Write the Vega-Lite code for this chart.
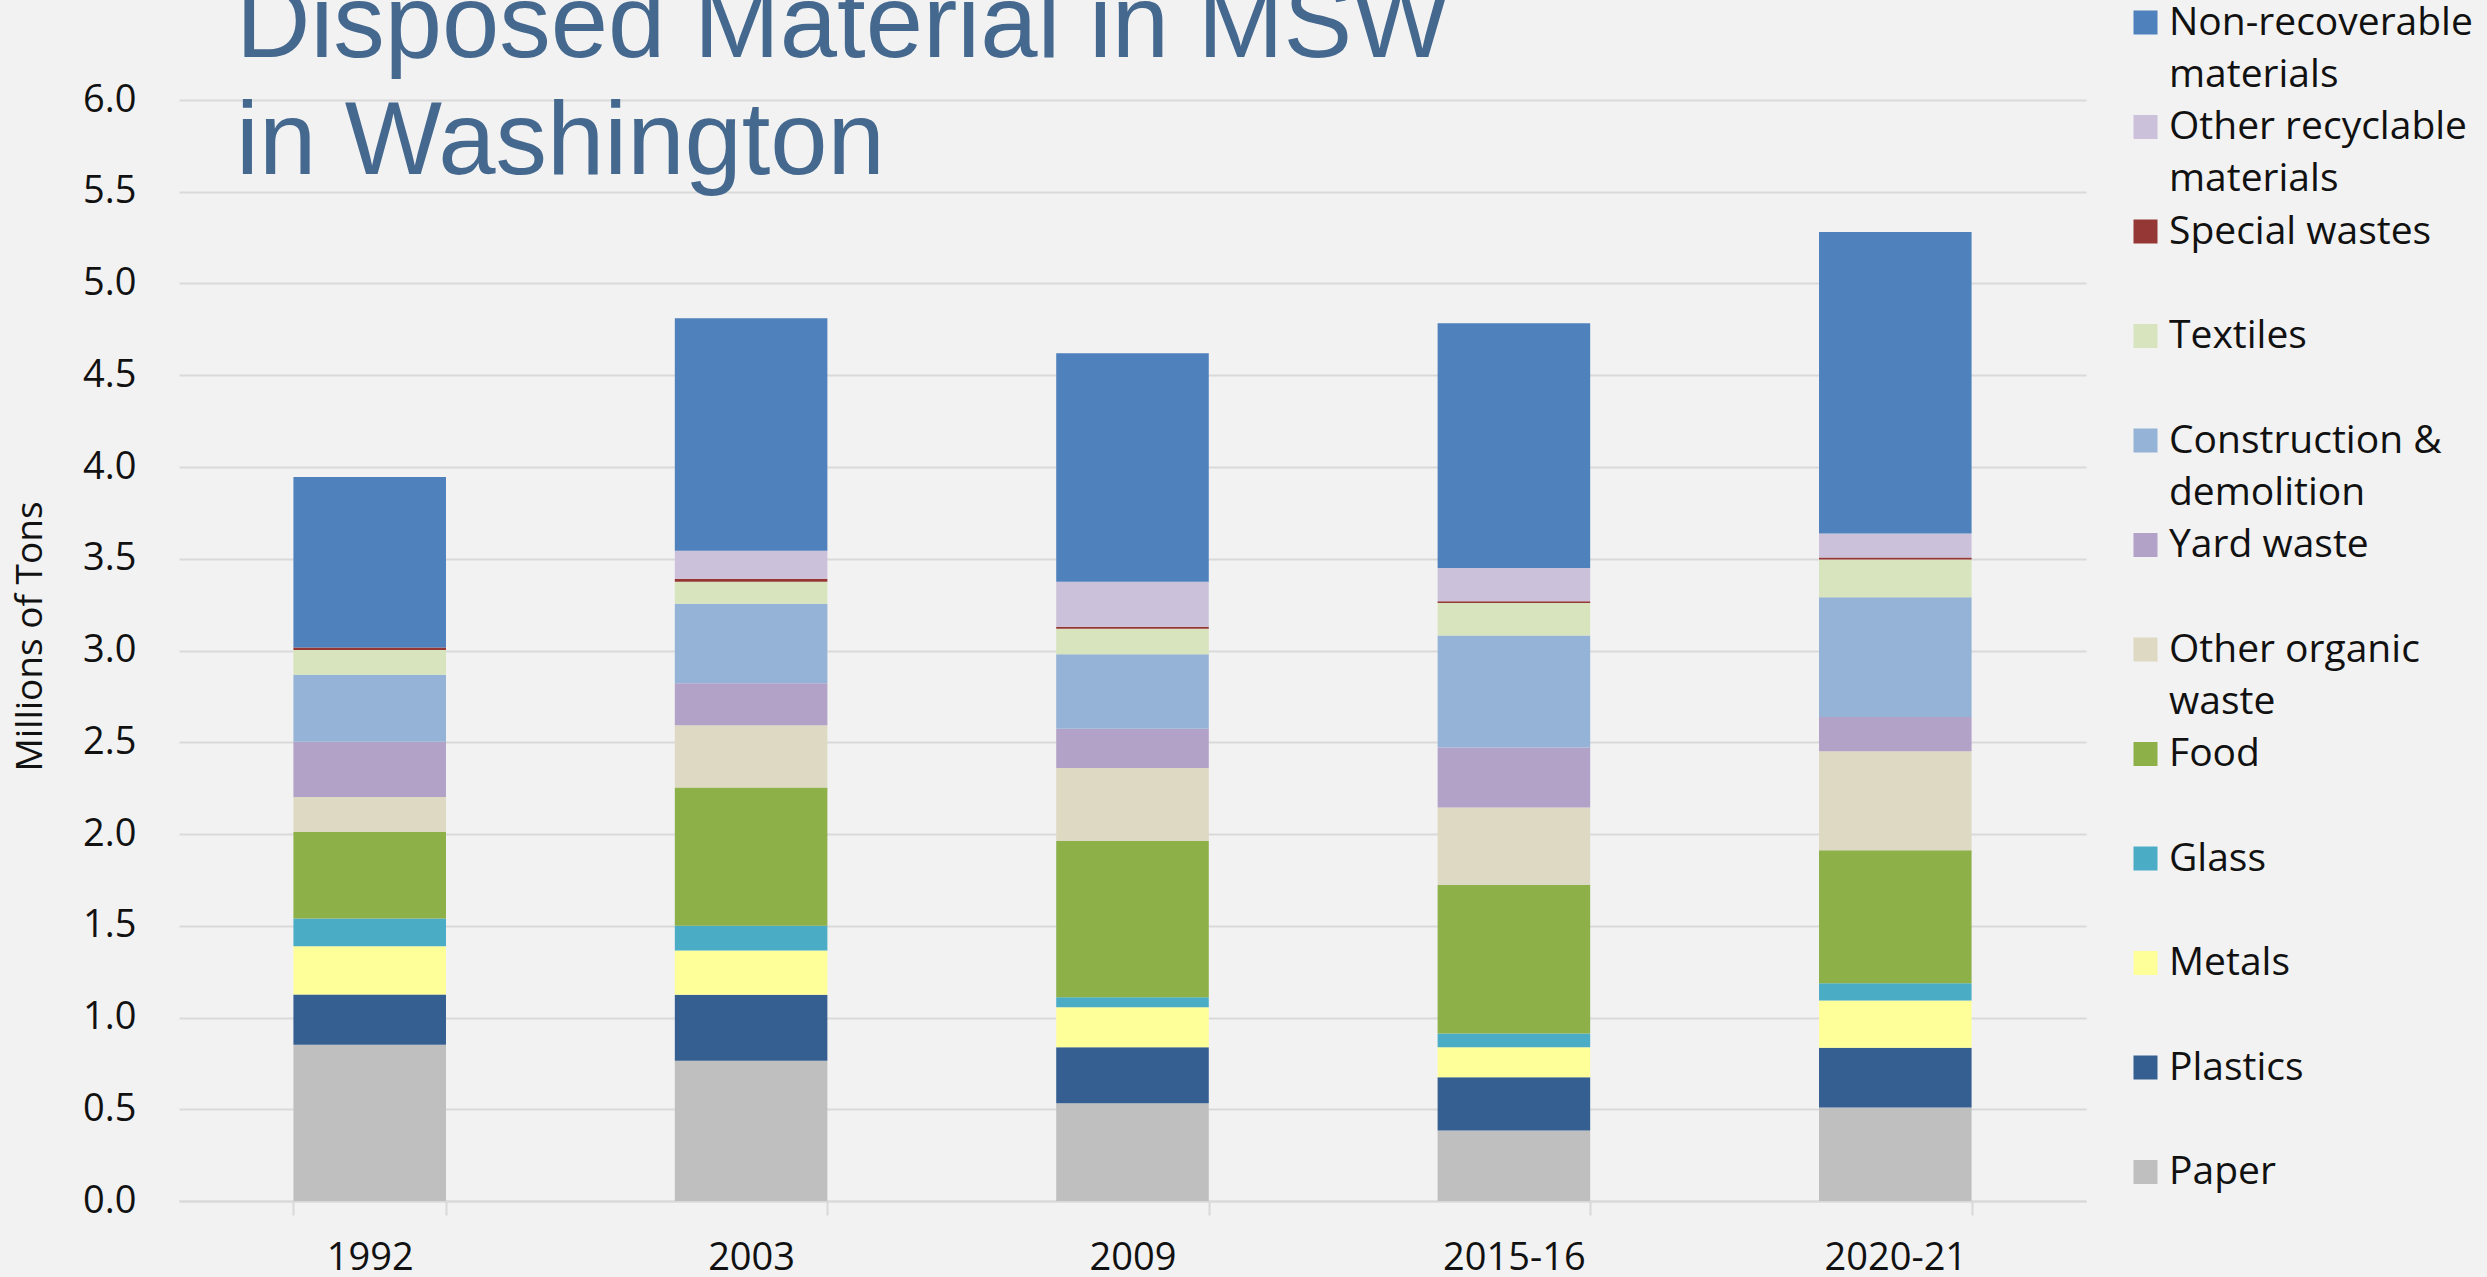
{
  "$schema": "https://vega.github.io/schema/vega-lite/v6.json",
  "autosize": {"type": "none"},
  "width": 1907,
  "height": 1101,
  "padding": {"left": 179, "top": 100, "right": 401, "bottom": 76},
  "background": "#F2F2F2",
  "title": {
    "text": ["Disposed Material in MSW", "in Washington"],
    "anchor": "start",
    "frame": "group",
    "font": "Liberation Sans",
    "fontSize": 103,
    "fontWeight": "normal",
    "color": "#45688F",
    "lineHeight": 117,
    "offset": -193,
    "dx": 57
  },
  "config": {
    "font": "Open Sans",
    "view": {"stroke": null},
    "axis": {"labelFont": "Open Sans", "titleFont": "Open Sans", "labelColor": "#111111", "titleColor": "#111111"}
  },
  "data": {
    "values": [
      {"period": "1992", "material": "Paper", "tons": 0.851},
      {"period": "1992", "material": "Plastics", "tons": 0.275},
      {"period": "1992", "material": "Metals", "tons": 0.262},
      {"period": "1992", "material": "Glass", "tons": 0.152},
      {"period": "1992", "material": "Food", "tons": 0.471},
      {"period": "1992", "material": "Other organic waste", "tons": 0.190},
      {"period": "1992", "material": "Yard waste", "tons": 0.302},
      {"period": "1992", "material": "Construction & demolition", "tons": 0.365},
      {"period": "1992", "material": "Textiles", "tons": 0.135},
      {"period": "1992", "material": "Special wastes", "tons": 0.014},
      {"period": "1992", "material": "Other recyclable materials", "tons": 0.0},
      {"period": "1992", "material": "Non-recoverable materials", "tons": 0.928},
      {"period": "2003", "material": "Paper", "tons": 0.764},
      {"period": "2003", "material": "Plastics", "tons": 0.360},
      {"period": "2003", "material": "Metals", "tons": 0.241},
      {"period": "2003", "material": "Glass", "tons": 0.135},
      {"period": "2003", "material": "Food", "tons": 0.754},
      {"period": "2003", "material": "Other organic waste", "tons": 0.339},
      {"period": "2003", "material": "Yard waste", "tons": 0.228},
      {"period": "2003", "material": "Construction & demolition", "tons": 0.434},
      {"period": "2003", "material": "Textiles", "tons": 0.119},
      {"period": "2003", "material": "Special wastes", "tons": 0.017},
      {"period": "2003", "material": "Other recyclable materials", "tons": 0.153},
      {"period": "2003", "material": "Non-recoverable materials", "tons": 1.266},
      {"period": "2009", "material": "Paper", "tons": 0.533},
      {"period": "2009", "material": "Plastics", "tons": 0.305},
      {"period": "2009", "material": "Metals", "tons": 0.218},
      {"period": "2009", "material": "Glass", "tons": 0.054},
      {"period": "2009", "material": "Food", "tons": 0.852},
      {"period": "2009", "material": "Other organic waste", "tons": 0.397},
      {"period": "2009", "material": "Yard waste", "tons": 0.214},
      {"period": "2009", "material": "Construction & demolition", "tons": 0.407},
      {"period": "2009", "material": "Textiles", "tons": 0.139},
      {"period": "2009", "material": "Special wastes", "tons": 0.011},
      {"period": "2009", "material": "Other recyclable materials", "tons": 0.244},
      {"period": "2009", "material": "Non-recoverable materials", "tons": 1.246},
      {"period": "2015-16", "material": "Paper", "tons": 0.384},
      {"period": "2015-16", "material": "Plastics", "tons": 0.291},
      {"period": "2015-16", "material": "Metals", "tons": 0.163},
      {"period": "2015-16", "material": "Glass", "tons": 0.075},
      {"period": "2015-16", "material": "Food", "tons": 0.811},
      {"period": "2015-16", "material": "Other organic waste", "tons": 0.421},
      {"period": "2015-16", "material": "Yard waste", "tons": 0.326},
      {"period": "2015-16", "material": "Construction & demolition", "tons": 0.611},
      {"period": "2015-16", "material": "Textiles", "tons": 0.177},
      {"period": "2015-16", "material": "Special wastes", "tons": 0.010},
      {"period": "2015-16", "material": "Other recyclable materials", "tons": 0.180},
      {"period": "2015-16", "material": "Non-recoverable materials", "tons": 1.334},
      {"period": "2020-21", "material": "Paper", "tons": 0.509},
      {"period": "2020-21", "material": "Plastics", "tons": 0.326},
      {"period": "2020-21", "material": "Metals", "tons": 0.258},
      {"period": "2020-21", "material": "Glass", "tons": 0.093},
      {"period": "2020-21", "material": "Food", "tons": 0.726},
      {"period": "2020-21", "material": "Other organic waste", "tons": 0.539},
      {"period": "2020-21", "material": "Yard waste", "tons": 0.187},
      {"period": "2020-21", "material": "Construction & demolition", "tons": 0.652},
      {"period": "2020-21", "material": "Textiles", "tons": 0.206},
      {"period": "2020-21", "material": "Special wastes", "tons": 0.011},
      {"period": "2020-21", "material": "Other recyclable materials", "tons": 0.131},
      {"period": "2020-21", "material": "Non-recoverable materials", "tons": 1.643}
    ]
  },
  "transform": [
    {"calculate": "indexof(['Paper', 'Plastics', 'Metals', 'Glass', 'Food', 'Other organic waste', 'Yard waste', 'Construction & demolition', 'Textiles', 'Special wastes', 'Other recyclable materials', 'Non-recoverable materials'], datum.material)", "as": "stack_rank"}
  ],
  "mark": {"type": "bar"},
  "encoding": {
    "x": {
      "field": "period",
      "type": "nominal",
      "sort": ["1992", "2003", "2009", "2015-16", "2020-21"],
      "scale": {"paddingInner": 0.6, "paddingOuter": 0.3},
      "axis": {
        "title": null,
        "labelAngle": 0,
        "labelFontSize": 38,
        "labelPadding": 24,
        "domainColor": "#D9D9D9",
        "domainWidth": 2,
        "tickColor": "#D9D9D9",
        "tickWidth": 2,
        "tickSize": 14,
        "tickBand": "extent",
        "grid": false
      }
    },
    "y": {
      "field": "tons",
      "type": "quantitative",
      "stack": "zero",
      "scale": {"domain": [0, 6], "nice": false},
      "axis": {
        "title": "Millions of Tons",
        "titleFontSize": 37,
        "titleFontWeight": "normal",
        "titleAngle": -90,
        "titleBaseline": "middle",
        "titleAlign": "center",
        "titleX": -149,
        "titleY": 536,
        "values": [0, 0.5, 1, 1.5, 2, 2.5, 3, 3.5, 4, 4.5, 5, 5.5, 6],
        "format": ".1f",
        "labelFontSize": 38,
        "labelPadding": 43,
        "ticks": false,
        "domain": false,
        "grid": true,
        "gridColor": "#D9D9D9",
        "gridWidth": 2
      }
    },
    "order": {"field": "stack_rank", "type": "quantitative", "sort": "ascending"},
    "color": {
      "field": "material",
      "type": "nominal",
      "scale": {
        "domain": ["Paper", "Plastics", "Metals", "Glass", "Food", "Other organic waste", "Yard waste", "Construction & demolition", "Textiles", "Special wastes", "Other recyclable materials", "Non-recoverable materials"],
        "range": ["#BFBFBF", "#355E91", "#FFFF99", "#4BACC6", "#8DB049", "#DDD9C3", "#B3A2C7", "#95B3D7", "#D7E4BD", "#953735", "#CCC1DA", "#4F81BD"]
      },
      "legend": {
        "title": null,
        "orient": "none",
        "legendX": 1947,
        "legendY": -97,
        "values": ["Non-recoverable materials", "Other recyclable materials", "Special wastes", "Textiles", "Construction & demolition", "Yard waste", "Other organic waste", "Food", "Glass", "Metals", "Plastics", "Paper"],
        "labelExpr": "datum.label == 'Non-recoverable materials' ? ['Non-recoverable', 'materials'] : datum.label == 'Other recyclable materials' ? ['Other recyclable', 'materials'] : datum.label == 'Construction & demolition' ? ['Construction &', 'demolition'] : datum.label == 'Other organic waste' ? ['Other organic', 'waste'] : datum.label",
        "labelFont": "Open Sans",
        "labelFontSize": 39,
        "labelColor": "#111111",
        "labelLimit": 0,
        "labelOffset": 4,
        "labelBaseline": "alphabetic",
        "symbolType": "square",
        "symbolSize": 576,
        "symbolStrokeWidth": 0,
        "rowPadding": 12.5,
        "gridAlign": "all",
        "padding": 0,
        "encode": {
          "labels": {"update": {"dy": {"value": 12}, "lineHeight": {"value": 52}}}
        }
      }
    }
  }
}
